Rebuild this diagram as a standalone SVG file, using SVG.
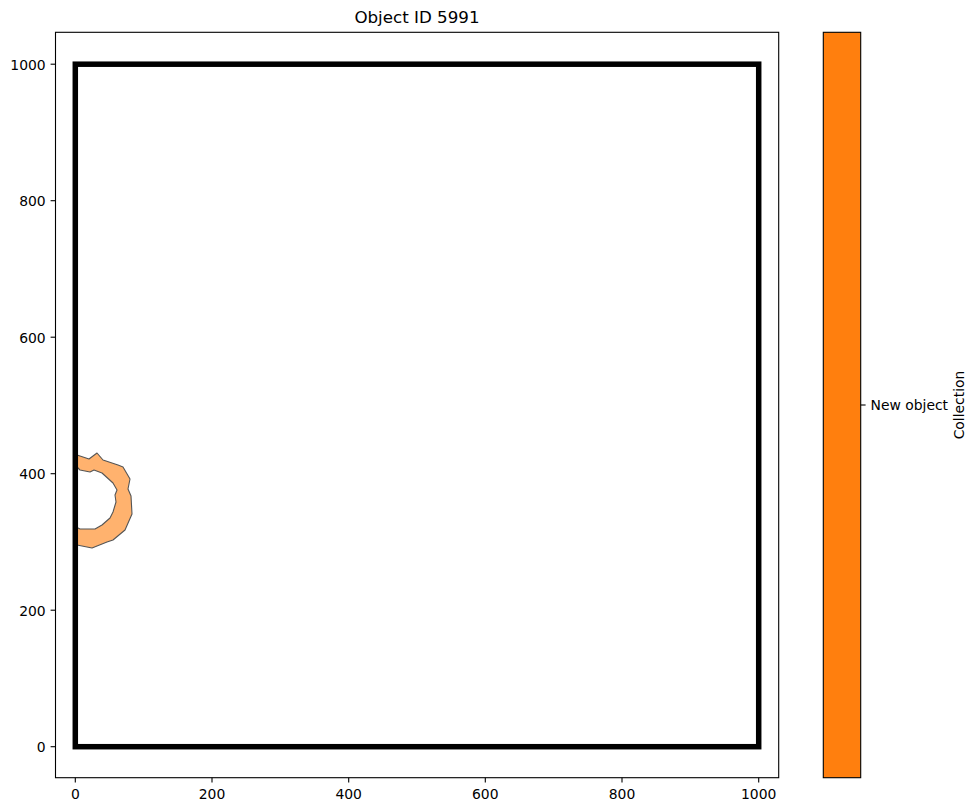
<svg xmlns="http://www.w3.org/2000/svg" width="977" height="812" viewBox="0 0 977 812">
<style>
text{font-family:"DejaVu Sans","Liberation Sans",sans-serif;fill:#000}
.tk{font-size:13.9px}
.tl{stroke:#000;stroke-width:1.1}
</style>
<rect x="0" y="0" width="977" height="812" fill="#fff"/>
<g id="title"><text x="417" y="23" font-size="16.7" text-anchor="middle">Object ID 5991</text></g>
<g id="object">
<path d="M77,455 L89,459 L97,453 L103,460 L118,465 L123,467 L130,479 L128,489 L131,496 L132,514 L125,530 L113,540 L107,542 L92,548 L77,545 L76,527 L80,529 L95,529 L102,525 L110,518 L113,512 L116,502 L115,495 L117,490 L113,483 L102,473 L94,470 L90,472 L80,470 L77,467 Z" fill="#ffb26e" stroke="#555" stroke-width="1.1" stroke-linejoin="round"/>
</g>
<g id="boundary">
<rect x="75.3" y="64.2" width="683.4" height="682.5" fill="none" stroke="#000" stroke-width="5.5"/>
</g>
<g id="axes">
<rect x="55.5" y="32.3" width="723.2" height="745.4" fill="none" stroke="#000" stroke-width="1.1"/>
<g class="tl">
<line x1="75.3" y1="777.7" x2="75.3" y2="782.6"/>
<line x1="212" y1="777.7" x2="212" y2="782.6"/>
<line x1="348.7" y1="777.7" x2="348.7" y2="782.6"/>
<line x1="485.3" y1="777.7" x2="485.3" y2="782.6"/>
<line x1="622" y1="777.7" x2="622" y2="782.6"/>
<line x1="758.7" y1="777.7" x2="758.7" y2="782.6"/>
<line x1="50.6" y1="746.7" x2="55.5" y2="746.7"/>
<line x1="50.6" y1="610.2" x2="55.5" y2="610.2"/>
<line x1="50.6" y1="473.7" x2="55.5" y2="473.7"/>
<line x1="50.6" y1="337.2" x2="55.5" y2="337.2"/>
<line x1="50.6" y1="200.7" x2="55.5" y2="200.7"/>
<line x1="50.6" y1="64.2" x2="55.5" y2="64.2"/>
</g>
<g class="tk" text-anchor="middle">
<text x="75.3" y="799">0</text>
<text x="212" y="799">200</text>
<text x="348.7" y="799">400</text>
<text x="485.3" y="799">600</text>
<text x="622" y="799">800</text>
<text x="758.7" y="799">1000</text>
</g>
<g class="tk" text-anchor="end">
<text x="45.7" y="752">0</text>
<text x="45.7" y="615.5">200</text>
<text x="45.7" y="479">400</text>
<text x="45.7" y="342.5">600</text>
<text x="45.7" y="206">800</text>
<text x="45.7" y="69.5">1000</text>
</g>
</g>
<g id="colorbar">
<rect x="823.3" y="32.3" width="37.4" height="745.4" fill="#ff7f0e" stroke="#000" stroke-width="1.1"/>
<line class="tl" x1="860.7" y1="405" x2="865.6" y2="405"/>
<text class="tk" x="870.5" y="410.2">New object</text>
<text class="tk" transform="translate(964,405) rotate(-90)" text-anchor="middle">Collection</text>
</g>
</svg>
